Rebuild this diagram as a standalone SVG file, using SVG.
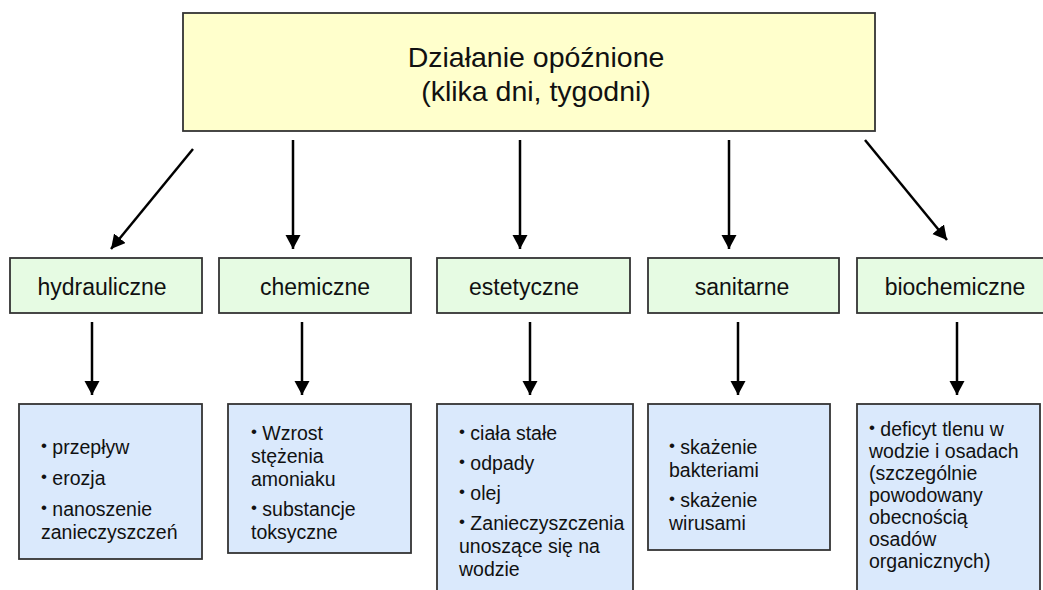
<svg xmlns="http://www.w3.org/2000/svg" width="1043" height="590" viewBox="0 0 1043 590">
<defs>
<style>
.box{stroke:#333;stroke-width:1.8}
.top{fill:#FFFFCC}
.grn{fill:#E6FBE3}
.blu{fill:#DAE9FC}
text{font-family:"Liberation Sans",Arial,sans-serif;fill:#111}
.t1{font-size:28.5px;text-anchor:middle}
.t2{font-size:23px;text-anchor:middle}
.t3{font-size:19.5px}
.b{font-size:17px}
.conn line{stroke:#000;stroke-width:2.5;marker-end:url(#ah)}
</style>
<marker id="ah" markerUnits="userSpaceOnUse" markerWidth="16" markerHeight="16" refX="14" refY="7.5" orient="auto" viewBox="0 0 16 16">
<path d="M0,0 L14,7.5 L0,15 z" fill="#000"/>
</marker>
</defs>
<rect width="1043" height="590" fill="#fff"/>
<g id="top">
<rect class="box top" x="183" y="13" width="692" height="118"/>
<text class="t1" x="536" y="67">Działanie opóźnione</text>
<text class="t1" x="536" y="101">(klika dni, tygodni)</text>
</g>
<g id="n-hydrauliczne">
<rect class="box grn" x="10" y="258" width="192" height="55"/>
<text class="t2" x="102" y="295">hydrauliczne</text>
</g>
<g id="n-chemiczne">
<rect class="box grn" x="219" y="258" width="192" height="55"/>
<text class="t2" x="315" y="295">chemiczne</text>
</g>
<g id="n-estetyczne">
<rect class="box grn" x="437" y="258" width="193" height="55"/>
<text class="t2" x="524" y="295">estetyczne</text>
</g>
<g id="n-sanitarne">
<rect class="box grn" x="648" y="258" width="191" height="55"/>
<text class="t2" x="742" y="295">sanitarne</text>
</g>
<g id="n-biochemiczne">
<rect class="box grn" x="857" y="258" width="190" height="55"/>
<text class="t2" x="955" y="295">biochemiczne</text>
</g>
<g id="d-hydrauliczne">
<rect class="box blu" x="19" y="404" width="183" height="155"/>
<text class="t3" x="41" y="454"><tspan class="b" dy="-3">•</tspan><tspan dy="3"> przepływ</tspan></text>
<text class="t3" x="41" y="485"><tspan class="b" dy="-3">•</tspan><tspan dy="3"> erozja</tspan></text>
<text class="t3" x="41" y="516"><tspan class="b" dy="-3">•</tspan><tspan dy="3"> nanoszenie</tspan></text>
<text class="t3" x="41" y="539">zanieczyszczeń</text>
</g>
<g id="d-chemiczne">
<rect class="box blu" x="228" y="404" width="183" height="149"/>
<text class="t3" x="251" y="440"><tspan class="b" dy="-3">•</tspan><tspan dy="3"> Wzrost</tspan></text>
<text class="t3" x="251" y="463">stężenia</text>
<text class="t3" x="251" y="486">amoniaku</text>
<text class="t3" x="251" y="516"><tspan class="b" dy="-3">•</tspan><tspan dy="3"> substancje</tspan></text>
<text class="t3" x="251" y="539">toksyczne</text>
</g>
<g id="d-estetyczne">
<rect class="box blu" x="437" y="404" width="196" height="195"/>
<text class="t3" x="459" y="440"><tspan class="b" dy="-3">•</tspan><tspan dy="3"> ciała stałe</tspan></text>
<text class="t3" x="459" y="470"><tspan class="b" dy="-3">•</tspan><tspan dy="3"> odpady</tspan></text>
<text class="t3" x="459" y="500"><tspan class="b" dy="-3">•</tspan><tspan dy="3"> olej</tspan></text>
<text class="t3" x="459" y="530"><tspan class="b" dy="-3">•</tspan><tspan dy="3"> Zanieczyszczenia</tspan></text>
<text class="t3" x="459" y="553">unoszące się na</text>
<text class="t3" x="459" y="576">wodzie</text>
</g>
<g id="d-sanitarne">
<rect class="box blu" x="648" y="404" width="182" height="146"/>
<text class="t3" x="669" y="454"><tspan class="b" dy="-3">•</tspan><tspan dy="3"> skażenie</tspan></text>
<text class="t3" x="669" y="477">bakteriami</text>
<text class="t3" x="669" y="507"><tspan class="b" dy="-3">•</tspan><tspan dy="3"> skażenie</tspan></text>
<text class="t3" x="669" y="530">wirusami</text>
</g>
<g id="d-biochemiczne">
<rect class="box blu" x="857" y="404" width="183" height="195"/>
<text class="t3" x="869" y="436"><tspan class="b" dy="-3">•</tspan><tspan dy="3"> deficyt tlenu w</tspan></text>
<text class="t3" x="869" y="458">wodzie i osadach</text>
<text class="t3" x="869" y="480">(szczególnie</text>
<text class="t3" x="869" y="502">powodowany</text>
<text class="t3" x="869" y="524">obecnością</text>
<text class="t3" x="869" y="546">osadów</text>
<text class="t3" x="869" y="568">organicznych)</text>
</g>
<g id="connectors" class="conn">
<line x1="193" y1="149" x2="111" y2="249"/>
<line x1="293" y1="140" x2="293" y2="249"/>
<line x1="520" y1="140" x2="520" y2="249"/>
<line x1="729" y1="140" x2="729" y2="249"/>
<line x1="865" y1="140" x2="947" y2="240"/>
<line x1="92" y1="322" x2="92" y2="395"/>
<line x1="302" y1="322" x2="302" y2="395"/>
<line x1="530" y1="322" x2="530" y2="395"/>
<line x1="738" y1="322" x2="738" y2="395"/>
<line x1="957" y1="322" x2="957" y2="395"/>
</g>
</svg>
